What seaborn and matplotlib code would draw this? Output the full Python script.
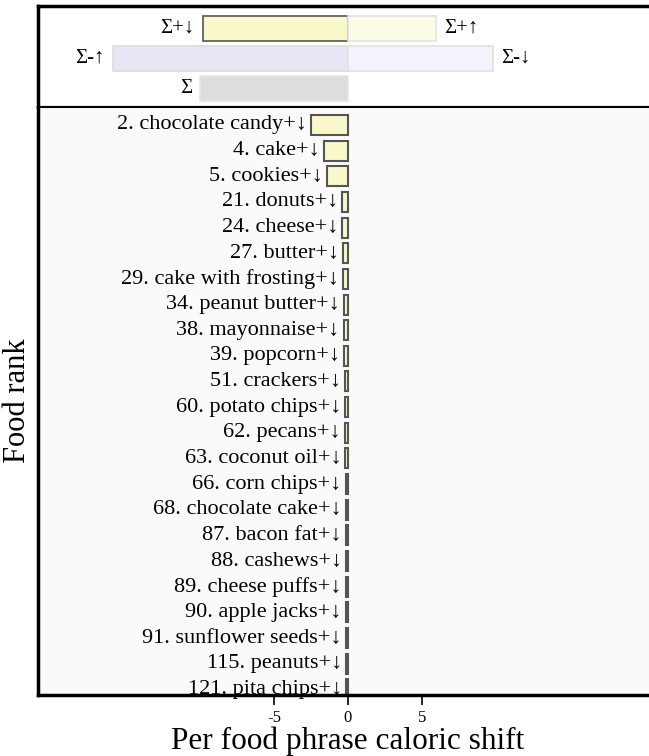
import numpy as np
import pandas as pd
import matplotlib
matplotlib.use('Agg')
import matplotlib.pyplot as plt
import seaborn as sns

# food items (rank, name, per-phrase caloric shift)
ranks = [2, 4, 5, 21, 24, 27, 29, 34, 38, 39, 51, 60, 62, 63, 66, 68, 87, 88, 89, 90, 91, 115, 121]
foods = ['chocolate candy', 'cake', 'cookies', 'donuts', 'cheese', 'butter', 'cake with frosting',
         'peanut butter', 'mayonnaise', 'popcorn', 'crackers', 'potato chips', 'pecans', 'coconut oil',
         'corn chips', 'chocolate cake', 'bacon fat', 'cashews', 'cheese puffs', 'apple jacks',
         'sunflower seeds', 'peanuts', 'pita chips']
shifts = [-2.5, -1.6, -1.4, -0.4, -0.37, -0.35, -0.33, -0.3, -0.28, -0.27, -0.2, -0.19, -0.18,
          -0.17, -0.16, -0.16, -0.15, -0.14, -0.14, -0.13, -0.13, -0.12, -0.12]

# summary bars
sum_rows = ['Σ+', 'Σ+', 'Σ-', 'Σ-', 'Σ']
sum_kinds = ['Σ+↓', 'Σ+↑', 'Σ-↑', 'Σ-↓', 'Σ']
sum_values = [-9.8, 5.95, -15.9, 9.8, -10.0]
sum_faces = ['#ffffc4', '#fffee3', '#e3e3f8', '#f2f2fc', '#dddddd']
sum_edges = ['#555555', '#e2e2e2', '#dddddd', '#e2e2e2', '#e6e6e6']

sns.set_style('white')
plt.rcParams['font.family'] = ['Liberation Serif', 'DejaVu Serif']
plt.rcParams['text.color'] = 'black'
plt.rcParams['axes.labelcolor'] = 'black'
plt.rcParams['xtick.color'] = 'black'

fig = plt.figure(figsize=(6.49, 7.56), dpi=100)
ax_top = fig.add_axes([0.0586, 0.8585, 0.955, 0.1336])
ax = fig.add_axes([0.0586, 0.0807, 0.955, 0.7778])

# ---- summary panel
sdf = pd.DataFrame({'row': sum_rows, 'kind': sum_kinds, 'value': sum_values})
sns.barplot(data=sdf, x='value', y='row', hue='kind', hue_order=sum_kinds,
            palette=dict(zip(sum_kinds, sum_faces)), dodge=False, width=0.85,
            legend=False, ax=ax_top)
for cont, ec in zip(ax_top.containers, sum_edges):
    for bar in cont:
        bar.set_edgecolor(ec)
        bar.set_linewidth(1.2)
row_pos = {r: i for i, r in enumerate(pd.unique(sdf['row']))}
for r, k, v in zip(sum_rows, sum_kinds, sum_values):
    off = 6 if v > 0 else -6
    ax_top.annotate(k, (v, row_pos[r]), xytext=(off, 0), textcoords='offset points',
                    ha='left' if v > 0 else 'right', va='center', fontsize=15)
ax_top.set_xlim(-21, 21)
ax_top.set_ylim(2.62, -0.75)
ax_top.set_facecolor('white')
ax_top.set_xticks([])
ax_top.set_yticks([])
ax_top.set_xlabel('')
ax_top.set_ylabel('')

# ---- food panel
df = pd.DataFrame({'label': [f'{r}. {f}+↓' for r, f in zip(ranks, foods)], 'shift': shifts})
sns.barplot(data=df, x='shift', y='label', color='#ffffc4', edgecolor='#555555',
            linewidth=1.5, width=0.78, ax=ax)
for i, (lab, s) in enumerate(zip(df['label'], df['shift'])):
    t = ax.annotate(lab, (s, i), xytext=(-3, 0), textcoords='offset points',
                    ha='right', va='center', fontsize=16, annotation_clip=False)
    t.set_clip_on(True)
ax.set_xlim(-21, 21)
ax.set_ylim(22.22, -0.7)
ax.set_facecolor('#fafafa')
ax.set_yticks([])
ax.set_xticks([-5, 0, 5])
ax.set_xticklabels(['-5', '0', '5'])
ax.tick_params(axis='x', bottom=True, length=7, width=1.2, pad=4, labelsize=12)
ax.set_xlabel('Per food phrase caloric shift', fontsize=22.5, labelpad=0)
ax.set_ylabel('Food rank', fontsize=22, labelpad=4)

for a in (ax_top, ax):
    for sp in a.spines.values():
        sp.set_color('black')
        sp.set_linewidth(2.5)
ax_top.spines['bottom'].set_linewidth(1.5)
ax.spines['top'].set_linewidth(1.5)

fig.savefig('out.png', dpi=100)
